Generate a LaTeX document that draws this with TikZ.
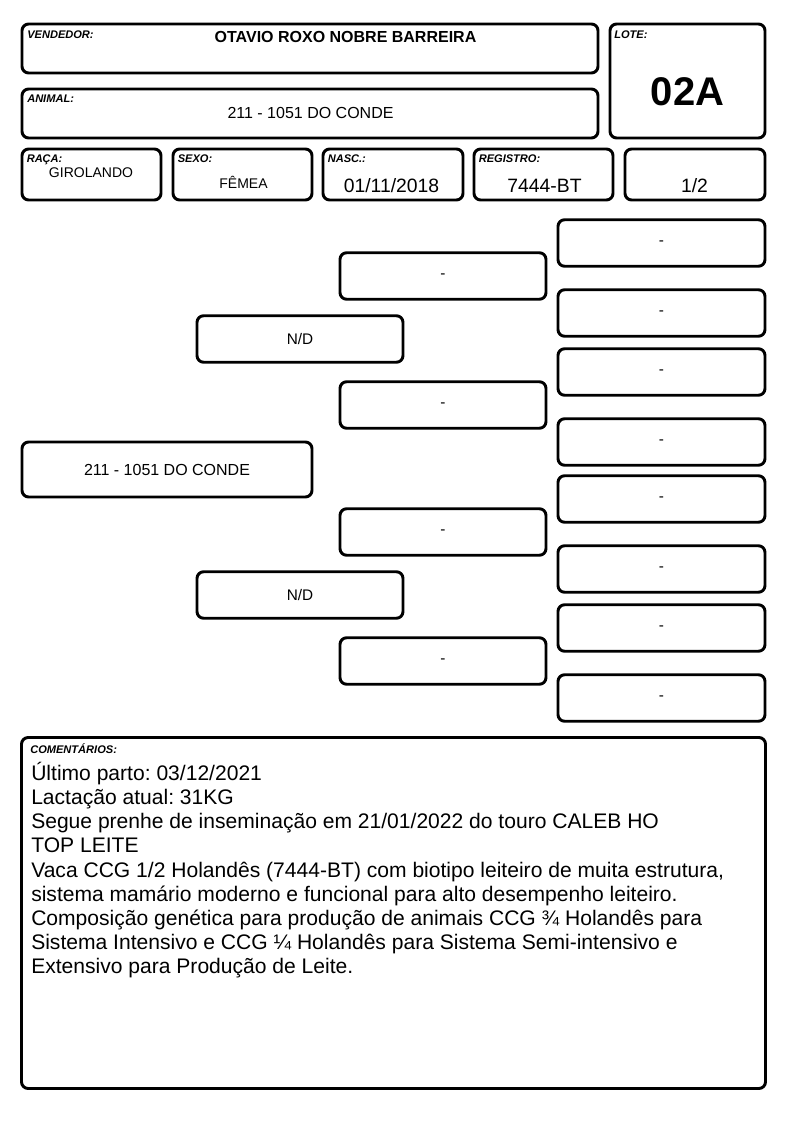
\documentclass[tikz,border=0pt]{standalone}
\usepackage{fontspec}
\setmainfont{Liberation Sans}
\frenchspacing
\tikzstyle{campo}=[draw=black,line width=2.2pt,rounded corners=5pt,
                   inner sep=0pt]
\tikzstyle{rotulo}=[anchor=base west,inner sep=0pt,
                    font=\fontsize{8.3}{9}\selectfont\bfseries\itshape]
\tikzstyle{valor}=[anchor=base,inner sep=0pt]
\tikzstyle{avo}=[campo,minimum width=154.5pt,minimum height=34.9pt,
                 font=\fontsize{11.5}{13}\selectfont]
\tikzstyle{bisavo}=[campo,minimum width=155.25pt,minimum height=34.9pt,
                    font=\fontsize{11.5}{13}\selectfont]

\begin{document}
\begin{tikzpicture}[x=0.75pt,y=-0.75pt]
    \useasboundingbox (0,0) rectangle (794,1123);
    % cabecalho
    \node (vend) at (310,48.5) [campo,minimum width=432pt,minimum height=36.75pt]{};
    \node (anim) at (310,113.5) [campo,minimum width=432pt,minimum height=36.75pt]{};
    \node (lote) at (687.5,81) [campo,minimum width=116.25pt,minimum height=85.5pt]{};
    \node (raca) at (91.5,174.5) [campo,minimum width=104.25pt,minimum height=38.25pt]{};
    \node (sexo) at (242.5,174.5) [campo,minimum width=104.25pt,minimum height=38.25pt]{};
    \node (nasc) at (393,174.5) [campo,minimum width=105pt,minimum height=38.25pt]{};
    \node (reg) at (543.5,174.5) [campo,minimum width=104.25pt,minimum height=38.25pt]{};
    \node (frac) at (695,174.5) [campo,minimum width=105pt,minimum height=38.25pt]{};
    \node (lvend) at (27,39) [rotulo]{VENDEDOR:};
    \node (lanim) at (27,103) [rotulo]{ANIMAL:};
    \node (llote) at (614,39) [rotulo]{LOTE:};
    \node (lraca) at (26.5,163) [rotulo]{RAÇA:};
    \node (lsexo) at (177.5,163) [rotulo]{SEXO:};
    \node (lnasc) at (327.5,163) [rotulo]{NASC.:};
    \node (lreg) at (478.5,163) [rotulo]{REGISTRO:};
    \node (vvend) at (345.5,43) [valor,font=\fontsize{12}{14}\selectfont\bfseries]{OTAVIO ROXO NOBRE BARREIRA};
    \node (vanim) at (310.5,119) [valor,font=\fontsize{12}{14}\selectfont]{211 - 1051 DO CONDE};
    \node (vlote) at (687.5,106) [valor,font=\fontsize{30}{32}\selectfont\bfseries]{02A};
    \node (vraca) at (91,178) [valor,font=\fontsize{10.5}{12}\selectfont]{GIROLANDO};
    \node (vsexo) at (243.5,189) [valor,font=\fontsize{10.5}{12}\selectfont]{FÊMEA};
    \node (vnasc) at (391.5,193) [valor,font=\fontsize{14.5}{16}\selectfont]{01/11/2018};
    \node (vreg) at (544.5,193) [valor,font=\fontsize{14.5}{16}\selectfont]{7444-BT};
    \node (vfrac) at (694.5,193) [valor,font=\fontsize{14.5}{16}\selectfont]{1/2};
    % genealogia
    \node (filho) at (167,469.5) [campo,minimum width=217.5pt,minimum height=41.25pt,
                                 font=\fontsize{12}{14}\selectfont]{211 - 1051 DO CONDE};
    \node (pai) at (300,339) [avo]{N/D};
    \node (mae) at (300,595) [avo]{N/D};
    \foreach \y [count=\i] in {276,405,532,661}
        \node (avo\i) at (443,\y) [avo]{-};
    \foreach \y [count=\i] in {243,313,372,442,499,569,628,698}
        \node (bis\i) at (661.5,\y) [bisavo]{-};
    % comentarios
    \node (coment) at (393.5,913) [campo,minimum width=558pt,minimum height=263.25pt]{};
    \node (lcoment) at (30,753) [rotulo]{COMENTÁRIOS:};
    \node (vcoment) at (31,762) [anchor=north west,inner sep=0pt,align=left,
                                font=\fontsize{15.8}{18.1}\selectfont]{%
        Último parto: 03/12/2021\\
        Lactação atual: 31KG\\
        Segue prenhe de inseminação em 21/01/2022 do touro CALEB HO\\
        TOP LEITE\\
        Vaca CCG 1/2 Holandês (7444-BT) com biotipo leiteiro de muita estrutura,\\
        sistema mamário moderno e funcional para alto desempenho leiteiro.\\
        Composição genética para produção de animais CCG ¾ Holandês para\\
        Sistema Intensivo e CCG ¼ Holandês para Sistema Semi-intensivo e\\
        Extensivo para Produção de Leite.};
\end{tikzpicture}
\end{document}
